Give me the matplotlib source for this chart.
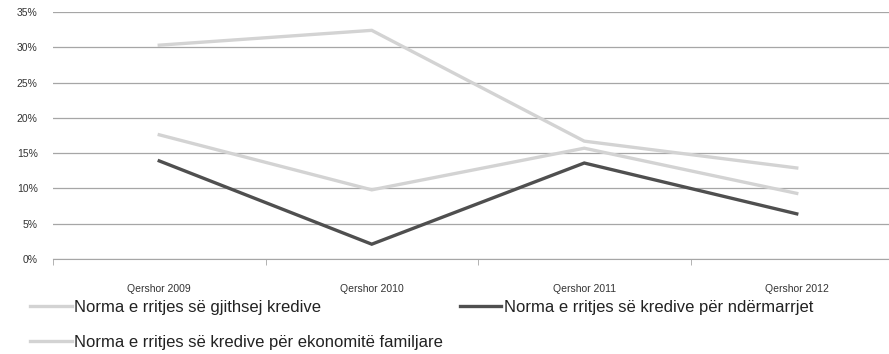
import matplotlib
matplotlib.use("Agg")
import matplotlib.pyplot as plt
import numpy as np
from matplotlib.ticker import FixedLocator, PercentFormatter

categories = ["Qershor 2009", "Qershor 2010", "Qershor 2011", "Qershor 2012"]
total_credit = [30.3, 32.4, 16.7, 12.9]
household_credit = [17.6, 9.8, 15.7, 9.3]
enterprise_credit = [13.9, 2.1, 13.6, 6.4]
labels = ["Norma e rritjes së gjithsej kredive",
          "Norma e rritjes së kredive për ekonomitë familjare",
          "Norma e rritjes së kredive për ndërmarrjet"]

light = "#d3d3d3"
dark = "#4f4f4f"
font = ["Liberation Sans", "DejaVu Sans"]

fig = plt.figure(figsize=(8.89, 3.54), dpi=100)
ax = fig.add_axes([53 / 889, 1 - 259 / 354, 850 / 889, 247 / 354])

x = np.arange(len(categories))
l1, = ax.plot(x, total_credit, color=light, lw=2.4, solid_joinstyle="miter")
l2, = ax.plot(x, household_credit, color=light, lw=2.4, solid_joinstyle="miter")
l3, = ax.plot(x, enterprise_credit, color=dark, lw=2.4, solid_joinstyle="miter")

ax.set_xlim(-0.5, 3.5)
ax.set_ylim(0, 35)
ax.set_yticks(np.arange(0, 36, 5))
ax.yaxis.set_major_formatter(PercentFormatter(decimals=0))
ax.grid(axis="y", color="#a6a6a6", lw=0.9)
ax.set_axisbelow(True)
for s in ["top", "right", "left"]:
    ax.spines[s].set_visible(False)
ax.spines["bottom"].set_color("#a6a6a6")
ax.tick_params(axis="y", length=0, pad=11, labelsize=7.5, labelcolor="#333333")
for t in ax.get_yticklabels():
    t.set_family(font)

ax.set_xticks(x)
ax.set_xticklabels(categories, family=font, fontsize=7.5, color="#333333")
ax.xaxis.set_minor_locator(FixedLocator([-0.5, 0.5, 1.5, 2.5, 3.5]))
ax.tick_params(axis="x", which="major", length=0, pad=18)
ax.tick_params(axis="x", which="minor", length=4, color="#a6a6a6")

leg = fig.legend([l1, l2, l3], labels, ncol=2, loc="upper left",
                 bbox_to_anchor=(30 / 889, 1 - 300 / 354), frameon=False,
                 prop={"family": font, "size": 12}, handlelength=2.5,
                 handletextpad=0.15, columnspacing=1.0, labelspacing=1.2,
                 borderaxespad=0, borderpad=0)
for t in leg.get_texts():
    t.set_color("#222222")

fig.savefig("out.png", dpi=100)
